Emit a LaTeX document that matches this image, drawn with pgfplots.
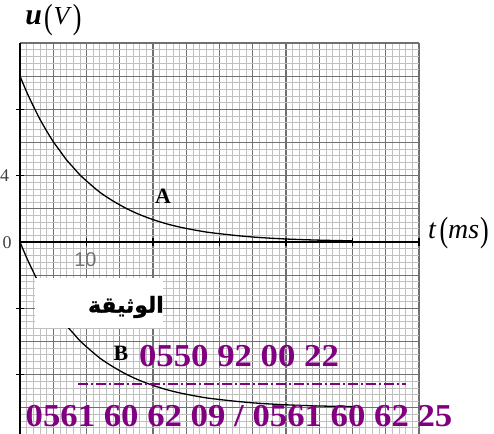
\documentclass[border=0pt]{standalone}
\usepackage{graphicx}
\usepackage{pgfplots}
\pgfplotsset{compat=1.18}
\usepackage{fontspec}
\setmainfont{Liberation Serif}
\newfontfamily\labelsans{Liberation Sans}
\newfontfamily\arabicfont[Script=Arabic, BoldFont={DejaVu Sans Bold}, BoldFeatures={FakeBold=1.2}]{DejaVu Sans}
\TeXXeTstate=1
\definecolor{stamp}{RGB}{128,0,128}
\definecolor{majorgrid}{RGB}{112,112,112}
\definecolor{minorgrid}{RGB}{192,192,192}

% tall parentheses used in the axis titles
\newcommand{\tallparen}[1]{\raisebox{-0.12em}{\scalebox{1}[1.35]{\fontsize{26}{26}\selectfont #1}}}

% discharge / charge curves
\pgfplotstableread{
t    u
0    10
1    9.05
2    8.2
3    7.4
4    6.7
5    6.05
6    5.5
7    4.95
8    4.5
9    4.05
10   3.68
12   3.0
14   2.47
16   2.02
18   1.65
20   1.35
22   1.1
24   0.9
26   0.74
28   0.6
30   0.5
33   0.37
36   0.27
40   0.18
45   0.11
50   0.07
}\curveA
\pgfplotstableread{
t    u
0    0
1    -0.95
2    -1.8
3    -2.6
4    -3.3
5    -3.95
6    -4.5
7    -5.05
8    -5.5
9    -5.95
10   -6.32
12   -7.0
14   -7.53
16   -7.98
18   -8.35
20   -8.65
22   -8.9
24   -9.1
26   -9.26
28   -9.4
30   -9.5
33   -9.63
36   -9.73
40   -9.82
45   -9.89
50   -9.93
}\curveB

\begin{document}
\begin{tikzpicture}
\path[use as bounding box] (0bp,0bp) rectangle (494bp,434bp);

% graph paper
\begin{axis}[
  at={(20bp,0bp)}, anchor=south west,
  scale only axis, width=399bp, height=391bp,
  xmin=0, xmax=60, ymin=-11.58, ymax=12,
  xtick={0,5,...,60}, ytick={-12,-10,...,12},
  minor x tick num=4, minor y tick num=4,
  xticklabels={}, yticklabels={},
  major tick length=0pt, minor tick length=0pt,
  grid=both,
  major grid style={draw=majorgrid, line width=1.1bp},
  minor grid style={draw=minorgrid, line width=0.6bp},
  axis line style={draw=none},
  clip=false,
]
\end{axis}

% axes, ticks and curves
\begin{axis}[
  at={(20bp,0bp)}, anchor=south west,
  scale only axis, width=399bp, height=391bp,
  xmin=0, xmax=60, ymin=-11.58, ymax=12,
  axis lines=middle,
  axis line style={-, black, line width=1.6bp},
  xtick={10,20,...,60}, ytick={-8,-4,4,8},
  xticklabels={}, yticklabels={},
  tick style={black, line width=1.1bp},
  major tick length=8bp,
  tick align=center,
]
\addplot[black, line width=1.3bp, smooth] table[x=t, y=u] {\curveA};
\addplot[black, line width=1.3bp, smooth] table[x=t, y=u] {\curveB};
\end{axis}

% axis titles and tick labels
\node[inner sep=0pt] at (53.5bp,414bp)
  {\fontsize{30}{30}\selectfont\textbf{\textit{u}}\kern2bp\tallparen{(}\kern1bp{\fontsize{26}{26}\selectfont\textit{V}}\kern1bp\tallparen{)}};
\node[inner sep=0pt] at (458.5bp,200.5bp)
  {\fontsize{28}{28}\selectfont\textit{t}\kern3bp\tallparen{(}\textit{ms}\kern1bp\tallparen{)}};
\node[inner sep=0pt, text=black!75] at (7bp,191bp)
  {\fontsize{18}{18}\selectfont 0};
\node[inner sep=0pt, anchor=west, text=black!75] at (0bp,258bp)
  {\fontsize{18}{18}\selectfont 4};
\node[inner sep=0pt, text=black!55] at (85.5bp,174bp)
  {\fontsize{20}{20}\selectfont\labelsans 10};

% curve names
\node[inner sep=0pt] at (163bp,238bp)
  {\fontsize{22}{22}\selectfont\textbf{A}};
\node[inner sep=0pt] at (121bp,81bp)
  {\fontsize{22}{22}\selectfont\textbf{B}};

% document label
\fill[white] (35bp,106bp) rectangle (163bp,156bp);
\node[inner sep=0pt, anchor=east] at (164bp,127bp)
  {\fontsize{22}{22}\selectfont\arabicfont\bfseries\beginR الوثيقة\endR};

% contact stamp
\node[inner sep=0pt, text=stamp] at (239bp,78bp)
  {\scalebox{1.09}[1]{\fontsize{32}{32}\selectfont\bfseries 0550 92 00 22}};
\draw[stamp, line width=2bp, dash pattern=on 10bp off 3bp on 2bp off 3bp]
  (78bp,50bp) -- (406bp,50bp);
\node[inner sep=0pt, text=stamp] at (239bp,18bp)
  {\scalebox{1.09}[1]{\fontsize{32}{32}\selectfont\bfseries 0561 60 62 09 / 0561 60 62 25}};
\end{tikzpicture}
\end{document}
